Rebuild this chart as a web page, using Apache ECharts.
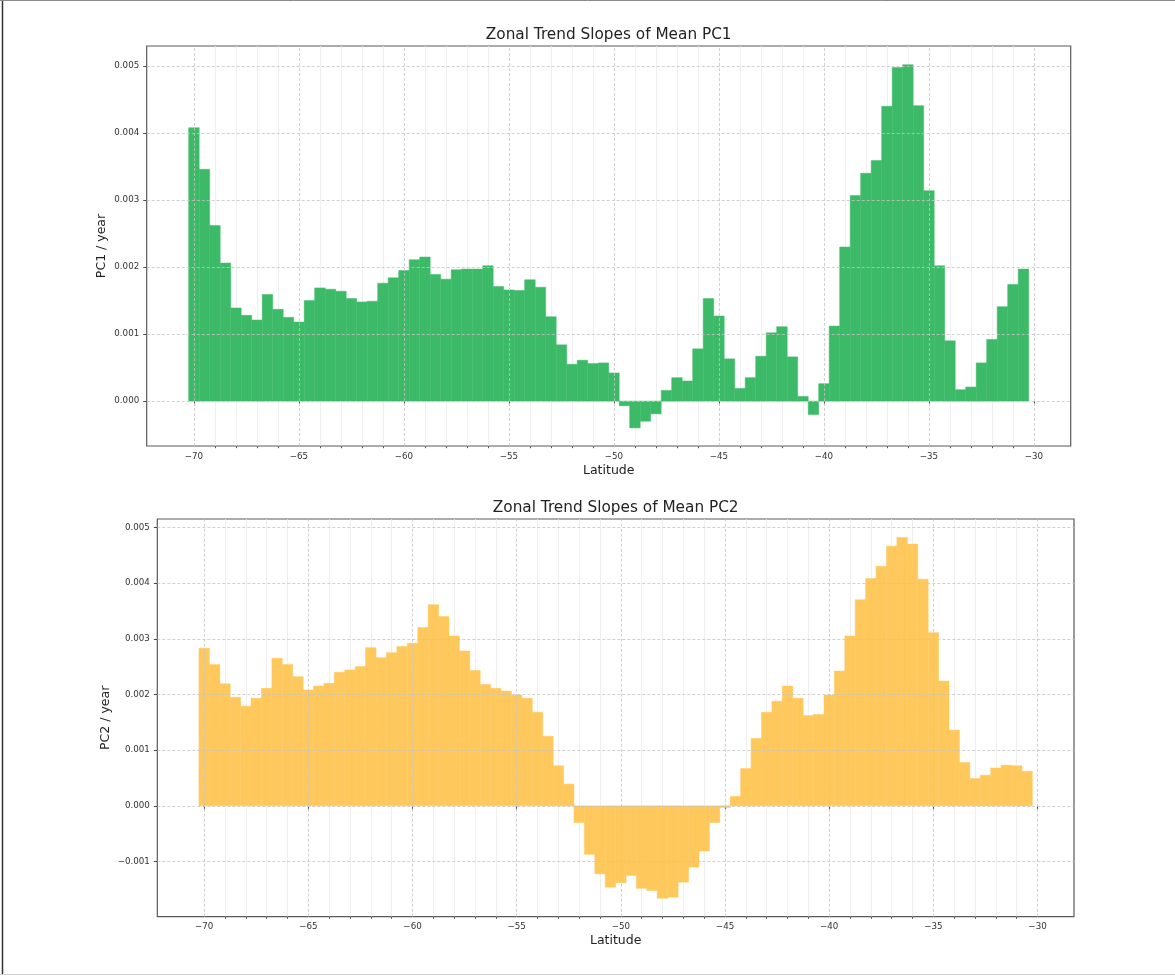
<!DOCTYPE html>
<html>
<head>
<meta charset="utf-8">
<script src="https://cdn.jsdelivr.net/npm/echarts@6/dist/echarts.min.js"></script>
<style>
html,body{margin:0;padding:0;background:#ffffff;}
#chart{width:1175px;height:976px;}
</style>
</head>
<body>
<div id="chart"></div>
<script>
// ---------------- data ----------------
const latitudes = [
  -70, -69.5, -69, -68.5, -68, -67.5, -67, -66.5, -66, -65.5,
  -65, -64.5, -64, -63.5, -63, -62.5, -62, -61.5, -61, -60.5,
  -60, -59.5, -59, -58.5, -58, -57.5, -57, -56.5, -56, -55.5,
  -55, -54.5, -54, -53.5, -53, -52.5, -52, -51.5, -51, -50.5,
  -50, -49.5, -49, -48.5, -48, -47.5, -47, -46.5, -46, -45.5,
  -45, -44.5, -44, -43.5, -43, -42.5, -42, -41.5, -41, -40.5,
  -40, -39.5, -39, -38.5, -38, -37.5, -37, -36.5, -36, -35.5,
  -35, -34.5, -34, -33.5, -33, -32.5, -32, -31.5, -31, -30.5
];
const binWidth = 0.5;

const pc1Slopes = [
  0.00408, 0.00346, 0.00262, 0.00206, 0.00139, 0.00128, 0.00121, 0.00159, 0.00137, 0.00125,
  0.00118, 0.00150, 0.00169, 0.00167, 0.00164, 0.00153, 0.00148, 0.00149, 0.00176, 0.00184,
  0.00195, 0.00211, 0.00215, 0.00189, 0.00182, 0.00196, 0.00197, 0.00197, 0.00202, 0.00171,
  0.00166, 0.00165, 0.00181, 0.00170, 0.00126, 0.00084, 0.00055, 0.00061, 0.00056, 0.00057,
  0.00042, -0.00007, -0.00040, -0.00030, -0.00019, 0.00016, 0.00035, 0.00030, 0.00078, 0.00153,
  0.00127, 0.00063, 0.00019, 0.00035, 0.00067, 0.00102, 0.00111, 0.00066, 0.00007, -0.00020,
  0.00026, 0.00112, 0.00230, 0.00307, 0.00340, 0.00359, 0.00440, 0.00498, 0.00502, 0.00441,
  0.00314, 0.00202, 0.00090, 0.00017, 0.00021, 0.00057, 0.00092, 0.00141, 0.00174, 0.00197
];

const pc2Slopes = [
  0.00283, 0.00254, 0.00219, 0.00195, 0.00179, 0.00193, 0.00211, 0.00265, 0.00254, 0.00232,
  0.00208, 0.00215, 0.00220, 0.00240, 0.00244, 0.00250, 0.00284, 0.00266, 0.00275, 0.00286,
  0.00292, 0.00320, 0.00361, 0.00340, 0.00305, 0.00278, 0.00243, 0.00218, 0.00211, 0.00206,
  0.00199, 0.00193, 0.00168, 0.00125, 0.00072, 0.00039, -0.00030, -0.00087, -0.00122, -0.00146,
  -0.00138, -0.00125, -0.00148, -0.00152, -0.00166, -0.00164, -0.00137, -0.00110, -0.00081, -0.00030,
  -0.00003, 0.00017, 0.00067, 0.00121, 0.00168, 0.00188, 0.00215, 0.00193, 0.00162, 0.00164,
  0.00199, 0.00242, 0.00305, 0.00370, 0.00408, 0.00430, 0.00466, 0.00482, 0.00470, 0.00407,
  0.00311, 0.00224, 0.00136, 0.00078, 0.00049, 0.00055, 0.00068, 0.00073, 0.00072, 0.00062
];

const xMajorTicks = [-70, -65, -60, -55, -50, -45, -40, -35, -30];
const xMinorTicks = [
  -69, -68, -67, -66, -64, -63, -62, -61, -59, -58, -57, -56,
  -54, -53, -52, -51, -49, -48, -47, -46, -44, -43, -42, -41,
  -39, -38, -37, -36, -34, -33, -32, -31
];
const pc1YTicks = [0, 0.001, 0.002, 0.003, 0.004, 0.005];
const pc2YTicks = [-0.001, 0, 0.001, 0.002, 0.003, 0.004, 0.005];

const titles = ['Zonal Trend Slopes of Mean PC1', 'Zonal Trend Slopes of Mean PC2'];
const yNames = ['PC1 / year', 'PC2 / year'];
const xName = 'Latitude';

// axis extents (matplotlib auto-margins)
const xRange = [-72.25, -28.25];
const pc1Range = [-0.00067, 0.0053];
const pc2Range = [-0.00199, 0.00515];

// ---------------- styling ----------------
const FONT = 'DejaVu Sans';
const GREEN = '#3dba68';
const YELLOW = '#fec85c';
const TICK_COLOR = '#333333';
const SPINE = '#5a5a5a';

const grids = [
  {left: 146.7, top: 46, width: 924, height: 400},
  {left: 157.3, top: 519, width: 916.7, height: 397.7}
];

function fmtX(v) { return (v < 0 ? '\u2212' : '') + Math.abs(v); }
function fmtY(v) { return (v < 0 ? '\u2212' : '') + Math.abs(v).toFixed(3); }

const pairs1 = latitudes.map((x, i) => [x, pc1Slopes[i]]);
const pairs2 = latitudes.map((x, i) => [x, pc2Slopes[i]]);

function makeRender(color) {
  return function (params, api) {
    const x = api.value(0), y = api.value(1);
    const a = api.coord([x - binWidth / 2, y]);
    const b = api.coord([x + binWidth / 2, 0]);
    return {
      type: 'rect',
      shape: {x: a[0], y: Math.min(a[1], b[1]), width: b[0] - a[0], height: Math.abs(b[1] - a[1])},
      style: {fill: color, stroke: color, lineWidth: 0.5}
    };
  };
}
function renderNothing() { return null; }

const majorGrid = {color: '#c4c4c4', type: [3, 2], width: 0.8};
const minorGrid = {color: '#ebebeb', type: 'solid', width: 0.8};

function majorLines(yTicks) {
  return [
    ...xMajorTicks.map(v => ({xAxis: v, lineStyle: majorGrid})),
    ...yTicks.map(v => ({yAxis: v, lineStyle: majorGrid}))
  ];
}
function minorLines() {
  return xMinorTicks.map(v => ({xAxis: v, lineStyle: minorGrid}));
}
function markGrid(data, z) {
  return {silent: true, precision: 8, symbol: ['none', 'none'], label: {show: false},
    emphasis: {disabled: true}, z: z, data: data};
}

function mainX(gi) {
  return {
    type: 'value', gridIndex: gi, position: 'bottom',
    min: xRange[0], max: xRange[1],
    name: xName, nameLocation: 'middle', nameGap: 18, nameMoveOverlap: false,
    nameTextStyle: {fontFamily: FONT, fontSize: 12.5, color: '#222'},
    axisLine: {show: false},
    splitLine: {show: false},
    axisTick: {show: true, customValues: xMajorTicks, length: 3.5, lineStyle: {color: TICK_COLOR, width: 0.9}},
    axisLabel: {show: true, customValues: xMajorTicks, formatter: fmtX, margin: 6,
      fontFamily: FONT, fontSize: 8.7, color: TICK_COLOR}
  };
}
function minorX(gi) {
  return {
    type: 'value', gridIndex: gi, position: 'top', offset: -grids[gi].height,
    min: xRange[0], max: xRange[1],
    axisLine: {show: false}, splitLine: {show: false},
    axisTick: {show: true, inside: true, customValues: xMinorTicks, length: 2.2, lineStyle: {color: TICK_COLOR, width: 0.8}},
    axisLabel: {show: false}
  };
}
function mainY(gi, range, ticks, name, gap) {
  return {
    type: 'value', gridIndex: gi, position: 'left',
    min: range[0], max: range[1],
    name: name, nameLocation: 'middle', nameGap: gap, nameMoveOverlap: false,
    nameTextStyle: {fontFamily: FONT, fontSize: 12.5, color: '#222'},
    axisLine: {show: false}, splitLine: {show: false},
    axisTick: {show: true, customValues: ticks, length: 3.5, lineStyle: {color: TICK_COLOR, width: 0.9}},
    axisLabel: {show: true, customValues: ticks, formatter: fmtY, margin: 7.5,
      fontFamily: FONT, fontSize: 8.7, color: TICK_COLOR}
  };
}

const chart = echarts.init(document.getElementById('chart'), null, {renderer: 'canvas'});
chart.setOption({
  animation: false,
  backgroundColor: '#ffffff',
  grid: grids.map(g => Object.assign({show: true, borderColor: SPINE, borderWidth: 1.2, backgroundColor: 'transparent', containLabel: false}, g)),
  xAxis: [mainX(0), minorX(0), mainX(1), minorX(1)],
  yAxis: [mainY(0, pc1Range, pc1YTicks, yNames[0], 38), mainY(1, pc2Range, pc2YTicks, yNames[1], 45)],
  series: [
    {
      type: 'custom', name: 'minor-grid-1', xAxisIndex: 0, yAxisIndex: 0,
      data: pairs1, renderItem: renderNothing, z: 0, silent: true,
      markLine: markGrid(minorLines(), 0)
    },
    {
      type: 'custom', name: 'PC1', xAxisIndex: 0, yAxisIndex: 0,
      data: pairs1, renderItem: makeRender(GREEN), z: 2,
      markLine: markGrid(majorLines(pc1YTicks), 3)
    },
    {
      type: 'custom', name: 'minor-grid-2', xAxisIndex: 2, yAxisIndex: 1,
      data: pairs2, renderItem: renderNothing, z: 0, silent: true,
      markLine: markGrid(minorLines(), 0)
    },
    {
      type: 'custom', name: 'PC2', xAxisIndex: 2, yAxisIndex: 1,
      data: pairs2, renderItem: makeRender(YELLOW), z: 2,
      markLine: markGrid(majorLines(pc2YTicks), 3)
    }
  ],
  graphic: [
    {type: 'text', x: 608.7, y: 35, style: {text: titles[0], font: '15.3px "DejaVu Sans"', fill: '#222', align: 'center', verticalAlign: 'middle'}},
    {type: 'text', x: 615.7, y: 508, style: {text: titles[1], font: '15.3px "DejaVu Sans"', fill: '#222', align: 'center', verticalAlign: 'middle'}},
    {type: 'line', shape: {x1: 2.5, y1: 0, x2: 2.5, y2: 975}, style: {stroke: '#333', lineWidth: 1.5}},
    {type: 'line', shape: {x1: 0, y1: 0.5, x2: 1175, y2: 0.5}, style: {stroke: '#888', lineWidth: 1}},
    {type: 'line', shape: {x1: 0, y1: 974.5, x2: 1175, y2: 974.5}, style: {stroke: '#d0d0d0', lineWidth: 1}}
  ]
});
</script>
</body>
</html>
